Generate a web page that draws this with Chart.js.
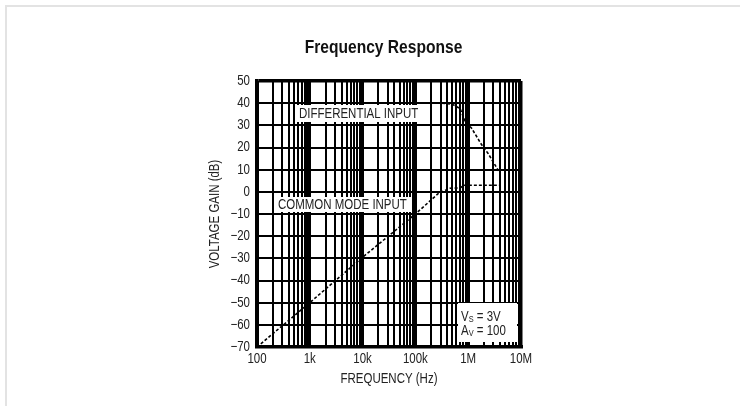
<!DOCTYPE html>
<html>
<head>
<meta charset="utf-8">
<script src="https://cdn.jsdelivr.net/npm/chart.js@4.4.1/dist/chart.umd.min.js"></script>
<style>
html,body{margin:0;padding:0;background:#fff;}
#wrap{position:relative;width:740px;height:406px;}
canvas{display:block;}
</style>
</head>
<body>
<div id="wrap"><canvas id="c" width="740" height="406"></canvas></div>
<script>
// ---------- data ----------
const titleText = 'Frequency Response';
const xAxisTitle = 'FREQUENCY (Hz)';
const yAxisTitle = 'VOLTAGE GAIN (dB)';

const decades = [100, 1000, 10000, 100000, 1000000];
const multipliers = [1, 2, 3, 4, 5, 6, 7, 8, 9];
const xMax = 10000000;
const decadeValues = [100, 1000, 10000, 100000, 1000000, 10000000];
const decadeLabels = ['100', '1k', '10k', '100k', '1M', '10M'];

const yMin = -70, yMax = 50, yStep = 10;

const diffLabel = 'DIFFERENTIAL INPUT';
const diffFreq = [100, 300000, 490000, 700000, 870000, 1160000, 1800000, 2400000, 4000000];
const diffGain = [40, 40, 39.6, 37.6, 32, 28.7, 21.2, 17.2, 8.4];

const cmLabel = 'COMMON MODE INPUT';
const cmFreq = [100, 1000, 10000, 100000, 270000, 450000, 700000, 850000, 4000000];
const cmGain = [-70, -50, -29.5, -10, -0.8, 1.6, 1.8, 3, 3];

const condLines = [['V', 'S', ' = 3V'], ['A', 'V', ' = 100']];

// ---------- setup ----------
const FONT = "'Liberation Sans', Arial, sans-serif";
Chart.defaults.font.family = FONT;
Chart.defaults.color = '#222';

// narrow (condensed) text rendering, like the Helvetica Narrow of the original
const canvas = document.getElementById('c');
const ctx0 = canvas.getContext('2d');
const SX = 0.82;
const origFill = ctx0.fillText.bind(ctx0);
const origMeasure = ctx0.measureText.bind(ctx0);
ctx0.fillText = function (t, x, y, mw) {
  this.save();
  this.translate(x, y);
  this.scale(SX, 1);
  if (mw !== undefined && mw !== null) origFill(t, 0, 0, mw / SX); else origFill(t, 0, 0);
  this.restore();
};
ctx0.measureText = function (t) {
  const m = origMeasure(t);
  return {
    width: m.width * SX,
    actualBoundingBoxAscent: m.actualBoundingBoxAscent,
    actualBoundingBoxDescent: m.actualBoundingBoxDescent,
    actualBoundingBoxLeft: m.actualBoundingBoxLeft * SX,
    actualBoundingBoxRight: m.actualBoundingBoxRight * SX
  };
};

const xTicks = [];
decades.forEach(d => multipliers.forEach(m => xTicks.push(d * m)));
xTicks.push(xMax);

const isDecade = v => decadeValues.some(d => Math.abs(d - v) < 1e-6 * d);
const toPts = (xs, ys) => xs.map((x, i) => ({x, y: ys[i]}));

const decor = {
  id: 'decor',
  beforeDraw(chart) {
    const ctx = chart.ctx;
    ctx.save();
    ctx.fillStyle = '#e3e3e3';
    ctx.fillRect(5, 5, 735, 2);
    ctx.fillRect(5, 5, 2, 401);
    ctx.restore();
  },
  beforeDatasetsDraw(chart) {
    const ctx = chart.ctx, a = chart.chartArea;
    ctx.save();
    ctx.fillStyle = '#fff';
    ctx.fillRect(a.left + 40, a.top + 24, 122, 17);
    ctx.fillRect(a.left + 19, a.top + 116, 136, 15);
    ctx.fillRect(a.left + 201, a.top + 222, 59, 39);
    ctx.fillStyle = '#222';
    ctx.font = '14px ' + FONT;
    ctx.textBaseline = 'middle';
    ctx.textAlign = 'left';
    ctx.fillText(diffLabel, a.left + 42, a.top + 33);
    ctx.fillText(cmLabel, a.left + 21, a.top + 124);
    condLines.forEach((parts, i) => {
      let x = a.left + 204;
      const y = a.top + 236 + i * 14;
      ctx.font = '14px ' + FONT;
      ctx.fillText(parts[0], x, y);
      x += ctx.measureText(parts[0]).width;
      ctx.font = '9px ' + FONT;
      ctx.fillText(parts[1], x, y + 3);
      x += ctx.measureText(parts[1]).width;
      ctx.font = '14px ' + FONT;
      ctx.fillText(parts[2], x, y);
    });
    ctx.restore();
  },
  afterDraw(chart) {
    const ctx = chart.ctx, a = chart.chartArea;
    ctx.save();
    ctx.fillStyle = '#111';
    ctx.font = 'bold 19px ' + FONT;
    ctx.textAlign = 'center';
    ctx.textBaseline = 'middle';
    ctx.fillText(titleText, (a.left + a.right) / 2 - 5.5, 48);
    ctx.restore();
  }
};

new Chart(canvas, {
  type: 'line',
  data: {
    datasets: [
      {label: diffLabel, data: toPts(diffFreq, diffGain)},
      {label: cmLabel, data: toPts(cmFreq, cmGain)}
    ]
  },
  options: {
    responsive: false,
    animation: false,
    events: [],
    layout: {padding: {top: 81, right: 219, left: 207, bottom: 14}},
    elements: {
      line: {borderColor: '#000', borderWidth: 1.6, borderDash: [3, 2], tension: 0, fill: false},
      point: {radius: 0}
    },
    plugins: {legend: {display: false}, tooltip: {enabled: false}, title: {display: false}},
    scales: {
      x: {
        type: 'logarithmic',
        min: 100, max: xMax,
        afterBuildTicks: s => { s.ticks = xTicks.map(v => ({value: v})); },
        afterFit: s => { s.height = 45; },
        ticks: {
          autoSkip: false, maxRotation: 0, padding: 4,
          font: {size: 14}, color: '#222',
          callback: v => { const i = decadeValues.findIndex(d => Math.abs(d - v) < 1e-6 * d); return i >= 0 ? decadeLabels[i] : ''; }
        },
        grid: {
          color: '#000', drawTicks: false,
          lineWidth: c => (c.tick && (c.tick.value >= xMax * 0.999)) ? 3.5 : (c.tick && isDecade(c.tick.value) ? 3 : 2)
        },
        border: {display: true, color: '#000', width: 3.5},
        title: {display: true, text: xAxisTitle, font: {size: 14}, color: '#222', padding: {top: 0, bottom: 4}}
      },
      y: {
        type: 'linear',
        min: yMin, max: yMax,
        afterFit: s => { s.width = 50; },
        ticks: {
          stepSize: yStep, padding: 7, font: {size: 14}, color: '#222',
          callback: v => String(v).replace('-', '\u2212')
        },
        grid: {
          color: '#000', drawTicks: false,
          lineWidth: c => (c.tick && c.tick.value === yMax) ? 3.5 : 2
        },
        border: {display: true, color: '#000', width: 3.5},
        title: {display: true, text: yAxisTitle, font: {size: 14}, color: '#222', padding: {top: 0, bottom: 0}}
      }
    }
  },
  plugins: [decor]
});
</script>
</body>
</html>
